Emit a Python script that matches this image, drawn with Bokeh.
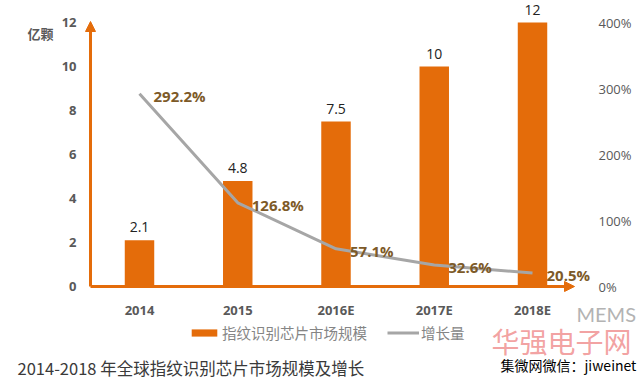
from bokeh.plotting import figure
from bokeh.models import (Range1d, LinearAxis, FixedTicker, PrintfTickFormatter,
                          ColumnDataSource, Label, Arrow, NormalHead, Legend, LegendItem)
from bokeh.embed import file_html
from bokeh.resources import INLINE
from bokeh.core.properties import value

# ---- data ----
years = ["2014", "2015", "2016E", "2017E", "2018E"]
market = [2.1, 4.8, 7.5, 10, 12]           # 亿颗
growth = [292.2, 126.8, 57.1, 32.6, 20.5]  # %
left_ticks = [0, 2, 4, 6, 8, 10, 12]
right_ticks = [0, 100, 200, 300, 400]

ORANGE = "#e46c0a"
GRAY_LINE = "#a6a6a6"
AXIS_TXT = "#595959"
BROWN = "#7d5a28"
NUM_FONT = "Open Sans"
CJK = "Noto Sans CJK SC"

W, H = 644, 380
X0, DX = 139.0, 98.25     # page x of first category centre, spacing
Y0, DY = 286.0, 22.0      # page y of value 0, px per unit


def px(X):
    return (X - X0) / DX


def py(Y):
    return (Y0 - Y) / DY


PCT = 400 / 12.0
idx = list(range(len(years)))

src = ColumnDataSource(dict(
    x=idx, market=market, growth=growth,
    mlabel=[("%g" % v) for v in market],
    glabel=[("%.1f%%" % v) for v in growth],
))

p = figure(width=W, height=H, x_range=Range1d(px(0), px(W)),
           y_range=Range1d(py(H), py(0)), output_backend="svg", toolbar_location=None,
           min_border=0, min_border_left=0, min_border_right=0, min_border_top=0,
           min_border_bottom=0, x_axis_location=None, y_axis_location=None)
p.outline_line_color = None
p.grid.grid_line_color = None
p.background_fill_color = "white"
p.border_fill_color = "white"

p.extra_y_ranges = {"pct": Range1d(py(H) * PCT, py(0) * PCT)}

x_left = px(90)
x_right = px(581)

# bottom axis (categories), fixed at value 0
xa = LinearAxis(ticker=FixedTicker(ticks=idx),
                major_label_overrides={i: y for i, y in zip(idx, years)},
                fixed_location=0)
xa.axis_line_color = None
xa.major_tick_line_color = None
xa.minor_tick_line_color = None
xa.major_tick_out = 0
xa.minor_tick_out = 0
xa.major_label_standoff = 14
xa.major_label_text_font = NUM_FONT
xa.major_label_text_font_style = "bold"
xa.major_label_text_font_size = "13px"
xa.major_label_text_color = AXIS_TXT
p.add_layout(xa, "below")

ya = LinearAxis(ticker=FixedTicker(ticks=left_ticks), fixed_location=x_left)
ya.axis_line_color = None
ya.major_tick_line_color = None
ya.minor_tick_line_color = None
ya.major_tick_out = 0
ya.minor_tick_out = 0
ya.major_label_standoff = 14
ya.major_label_text_font = NUM_FONT
ya.major_label_text_font_style = "bold"
ya.major_label_text_font_size = "13px"
ya.major_label_text_color = AXIS_TXT
p.add_layout(ya, "left")

ry = LinearAxis(y_range_name="pct", ticker=FixedTicker(ticks=right_ticks),
                formatter=PrintfTickFormatter(format="%d%%"), fixed_location=x_right)
ry.axis_line_color = None
ry.major_tick_line_color = None
ry.minor_tick_line_color = None
ry.major_tick_out = 0
ry.minor_tick_out = 0
ry.major_label_standoff = 17
ry.major_label_text_font = NUM_FONT
ry.major_label_text_font_size = "13px"
ry.major_label_text_color = AXIS_TXT
p.add_layout(ry, "right")

# bars
bars = p.vbar(x="x", top="market", width=0.3, source=src, fill_color=ORANGE, line_color=None)
p.text(x="x", y="market", text="mlabel", source=src, text_align="center",
       text_baseline="bottom", y_offset=-8, text_font=value(NUM_FONT),
       text_font_size="14px", text_color="#222222")

# growth line
line = p.line(x="x", y="growth", source=src, y_range_name="pct",
              line_color=GRAY_LINE, line_width=3)
p.text(x="x", y="growth", text="glabel", source=src, y_range_name="pct",
       text_align="left", text_baseline="middle", x_offset=14, y_offset=2,
       text_font=value(NUM_FONT), text_font_style="bold",
       text_font_size="15px", text_color=BROWN)

# axis arrows (orange)
p.add_layout(Arrow(x_start=x_left, y_start=0, x_end=x_left, y_end=py(21), line_color=ORANGE,
                   line_width=3, end=NormalHead(size=10, fill_color=ORANGE, line_color=ORANGE)))
p.add_layout(Arrow(x_start=x_left, y_start=0, x_end=px(574), y_end=0, line_color=ORANGE,
                   line_width=3, end=NormalHead(size=10, fill_color=ORANGE, line_color=ORANGE)))

# unit label
p.add_layout(Label(x=px(40), y=py(33), text="亿颗", text_align="center", text_baseline="middle",
                   text_font=CJK, text_font_style="bold", text_font_size="13px", text_color=AXIS_TXT))

# legend
legend = Legend(items=[LegendItem(label="指纹识别芯片市场规模", renderers=[bars]),
                       LegendItem(label="增长量", renderers=[line])],
                orientation="horizontal", location=(188, 37), padding=0, margin=0,
                spacing=20, glyph_width=32, glyph_height=9, label_standoff=2,
                label_text_font=CJK, label_text_font_size="14.5px", label_text_color="#858585",
                border_line_color=None, background_fill_alpha=0)
p.add_layout(legend, "center")

# caption & source / watermarks
p.add_layout(Label(x=px(17), y=py(367), text="2014-2018 年全球指纹识别芯片市场规模及增长",
                   text_baseline="middle", text_font=CJK, text_font_size="16.5px",
                   text_color="#3a3a3a"))
p.add_layout(Label(x=px(500), y=py(364), text="集微网微信：jiweinet",
                   text_baseline="middle", text_font=CJK,
                   text_font_size="14px", text_color="#000000"))
p.add_layout(Label(x=px(491), y=py(340), text="华强电子网",
                   text_baseline="middle", text_font=CJK, text_font_size="28px",
                   text_color="#ef8a8a", text_alpha=0.8))
p.add_layout(Label(x=px(576), y=py(313), text="MEMS",
                   text_baseline="middle", text_font="Lato", text_font_size="20px",
                   text_color="#b3b3b3"))

open("out.html", "w").write(file_html(p, INLINE))
